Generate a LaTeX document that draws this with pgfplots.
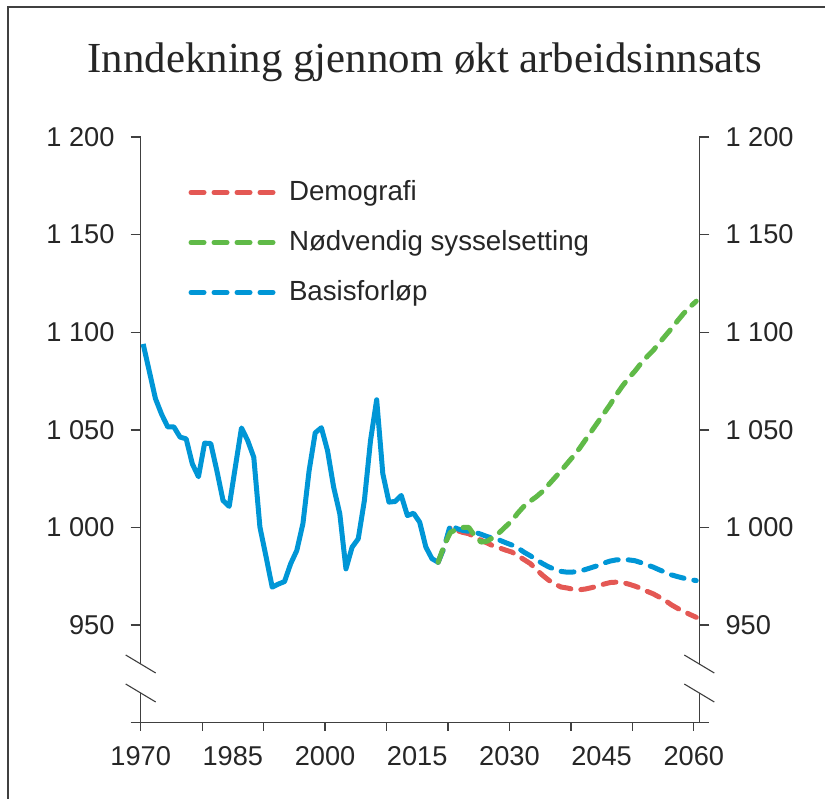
\documentclass[border=0pt]{standalone}
\usepackage{fontspec}
\setmainfont{Liberation Sans}
\newfontfamily\titlefont{Liberation Serif}
\usepackage{pgfplots}
\pgfplotsset{compat=1.18}
\definecolor{cred}{RGB}{228,88,84}
\definecolor{cgreen}{RGB}{96,186,72}
\definecolor{cblue}{RGB}{0,150,214}
\definecolor{axisgray}{RGB}{64,64,64}
\definecolor{textgray}{RGB}{38,38,38}
\begin{document}
\begin{tikzpicture}
\useasboundingbox (0,0) rectangle (825bp,-799bp);
\draw[line width=1.5bp, color=axisgray] (8bp,-799bp) -- (8bp,-7bp) -- (825bp,-7bp);
\node[anchor=base, font=\titlefont\fontsize{43}{43}\selectfont, text=textgray] at (425bp,-72bp) {Inndekning gjennom økt arbeidsinnsats};
\begin{axis}[
  at={(140.7bp,-722.7bp)}, anchor=south west,
  scale only axis, width=558.6bp, height=585.7bp,
  xmin=1970, xmax=2060.9, ymin=900, ymax=1200,
  axis x line*=bottom, axis y line*=left,
  axis line style={-, draw=axisgray, line width=1.3bp},
  tick align=outside,
  major tick length=10bp, minor tick length=8bp,
  every tick/.style={draw=axisgray, line width=1.3bp},
  xtick={1970,1985,...,2060},
  xticklabels={1970,1985,2000,2015,2030,2045,2060},
  minor xtick={1970,1980,...,2060},
  major x tick style={draw=none},
  ytick={950,1000,...,1200},
  yticklabels={950,1 000,1 050,1 100,1 150,1 200},
  ticklabel style={font=\fontsize{27.3}{27.3}\selectfont, text=textgray, inner sep=0pt},
  /pgf/number format/assume math mode=true,
  yticklabel shift=16bp, xticklabel shift=14bp,
  clip=false,
  legend cell align=left,
  legend image code/.code={\draw[#1, line cap=round] (2.5bp,1.5bp) -- (93bp,1.5bp);},
  legend style={
    at={(axis description cs:0.0856,0.9249)}, anchor=north west,
    draw=none, fill=none, inner sep=0pt, outer sep=0pt,
    row sep=24bp,
    nodes={inner sep=0pt, text height=20bp, text depth=6bp, text=textgray},
    font=\fontsize{27.8}{27.8}\selectfont,
    /tikz/every odd column/.append style={column sep=5bp},
  },
]
\addlegendimage{draw=cred, line width=5bp, line cap=round, dash pattern=on 13bp off 10bp}
\addlegendentry{Demografi}
\addlegendimage{draw=cgreen, line width=5bp, line cap=round, dash pattern=on 13bp off 10bp}
\addlegendentry{Nødvendig sysselsetting}
\addlegendimage{draw=cblue, line width=5bp, line cap=round, dash pattern=on 13bp off 10bp}
\addlegendentry{Basisforløp}
% Historical (solid)
\addplot[forget plot, draw=cblue, line width=5bp, line join=round] coordinates {
(1970.4,1094) (1971.4,1080) (1972.4,1066) (1973.4,1058) (1974.4,1051.5) (1975.4,1051.5)
(1976.4,1046.3) (1977.4,1045.4) (1978.4,1032.6) (1979.4,1026) (1980.4,1043.2) (1981.4,1043)
(1982.4,1029) (1983.4,1013.8) (1984.4,1010.8) (1985.4,1031) (1986.4,1051) (1987.4,1044.6)
(1988.4,1036) (1989.4,1000.2) (1990.4,985) (1991.4,969.4) (1992.4,971) (1993.4,972.3)
(1994.4,981.4) (1995.4,988.2) (1996.4,1002) (1997.4,1029) (1998.4,1048.5) (1999.4,1051.1)
(2000.4,1039.4) (2001.4,1020.6) (2002.4,1007) (2003.4,978.8) (2004.4,989.9) (2005.4,994.2)
(2006.4,1013.8) (2007.4,1044.6) (2008.4,1065.4) (2009.4,1027.5) (2010.4,1013) (2011.4,1013.3)
(2012.4,1016.4) (2013.4,1006.1) (2014.4,1007.3) (2015.4,1002.7) (2016.4,990) (2017.4,984)
(2018.4,982.2)
};
% Demografi
\addplot[forget plot, draw=cred, line width=5bp, line cap=round, line join=round, dash pattern=on 13bp off 10bp] coordinates {
(2018.4,982.2) (2019.4,990) (2020.4,1000) (2021.4,998.5) (2022.4,997.5) (2023.4,996.8)
(2024.4,995) (2025.4,993.5) (2026.4,992) (2027.4,990.5) (2028.4,989.5) (2029.4,988.4)
(2030.4,987.4) (2031.4,985.5) (2032.4,983.5) (2033.4,981.5) (2034.4,978.5) (2035.4,975.5)
(2036.4,973) (2037.4,971) (2038.4,969.5) (2039.4,969) (2040.4,968.3) (2041.4,968.1)
(2042.4,968.5) (2043.4,969.2) (2044.4,970) (2045.4,971) (2046.4,971.8) (2047.4,972)
(2048.4,971.8) (2049.4,971) (2050.4,970) (2051.4,968.8) (2052.4,967.3) (2053.4,966)
(2054.4,964.3) (2055.4,962.5) (2056.4,960.3) (2057.4,958.5) (2058.4,957) (2059.4,955.4)
(2060.4,954)
};
% Basisforløp
\addplot[forget plot, draw=cblue, line width=5bp, line cap=round, line join=round, dash pattern=on 13bp off 10bp] coordinates {
(2018.4,982.2) (2019.4,990) (2020.4,1001.5) (2021.4,999.5) (2022.4,998.5) (2023.4,998)
(2024.4,997.6) (2025.4,996.5) (2026.4,995.3) (2027.4,994.5) (2028.4,993.5) (2029.4,992.2)
(2030.4,991) (2031.4,989.5) (2032.4,987.3) (2033.4,985.5) (2034.4,983.5) (2035.4,981.5)
(2036.4,979.8) (2037.4,978.5) (2038.4,977.5) (2039.4,977.1) (2040.4,977.2) (2041.4,977.6)
(2042.4,978.5) (2043.4,979.5) (2044.4,980.5) (2045.4,981.8) (2046.4,982.8) (2047.4,983.4)
(2048.4,983.6) (2049.4,983.4) (2050.4,983) (2051.4,982) (2052.4,980.8) (2053.4,979.7)
(2054.4,978.3) (2055.4,977) (2056.4,975.7) (2057.4,974.8) (2058.4,974) (2059.4,973.3)
(2060.4,972.8)
};
% Nødvendig sysselsetting
\addplot[forget plot, draw=cgreen, line width=5bp, line cap=round, line join=round, dash pattern=on 13bp off 10bp] coordinates {
(2018.4,982.2) (2019.4,991) (2020.4,997.5) (2021.4,999) (2022.4,1000) (2023.4,1000)
(2024.4,995.5) (2025.4,992.5) (2026.4,993) (2027.4,995) (2028.4,997.5) (2029.4,1000.5)
(2030.4,1003.5) (2031.4,1007.5) (2032.4,1011) (2033.4,1013.5) (2034.4,1015.8) (2035.4,1018.5)
(2036.4,1022) (2037.4,1025.5) (2038.4,1029) (2039.4,1032.8) (2040.4,1036.5) (2041.4,1040.5)
(2042.4,1045) (2043.4,1049.5) (2044.4,1054) (2045.4,1058.5) (2046.4,1063) (2047.4,1068)
(2048.4,1072.5) (2049.4,1076.5) (2050.4,1080) (2051.4,1084) (2052.4,1087.5) (2053.4,1090.7)
(2054.4,1094.5) (2055.4,1098.3) (2056.4,1102) (2057.4,1106) (2058.4,1109.8) (2059.4,1113)
(2060.4,1115.9)
};
\end{axis}
\begin{axis}[
  at={(140.7bp,-722.7bp)}, anchor=south west,
  scale only axis, width=558.6bp, height=585.7bp,
  xmin=1970, xmax=2060.9, ymin=900, ymax=1200,
  hide x axis, axis y line*=right,
  axis line style={-, draw=axisgray, line width=1.3bp},
  tick align=outside, major tick length=10bp,
  every tick/.style={draw=axisgray, line width=1.3bp},
  ytick={950,1000,...,1200},
  yticklabels={950,1 000,1 050,1 100,1 150,1 200},
  yticklabel pos=right,
  ticklabel style={font=\fontsize{27.3}{27.3}\selectfont, text=textgray, inner sep=0pt},
  yticklabel shift=16bp,
]
\end{axis}
% x-axis extension and axis breaks
\draw[line width=1.3bp, color=axisgray] (130.7bp,-722.7bp) -- (709.3bp,-722.7bp);
\fill[white] (136bp,-664bp) rectangle (146bp,-693bp);
\fill[white] (694bp,-664bp) rectangle (704bp,-693bp);
\foreach \xc in {140.7,699.3}{
  \foreach \yc in {664,693}{
    \draw[line width=1.1bp, color=axisgray] ({(\xc-15)*1bp},{-(\yc-9)*1bp}) -- ({(\xc+15)*1bp},{-(\yc+9)*1bp});
  }
}
\end{tikzpicture}
\end{document}
